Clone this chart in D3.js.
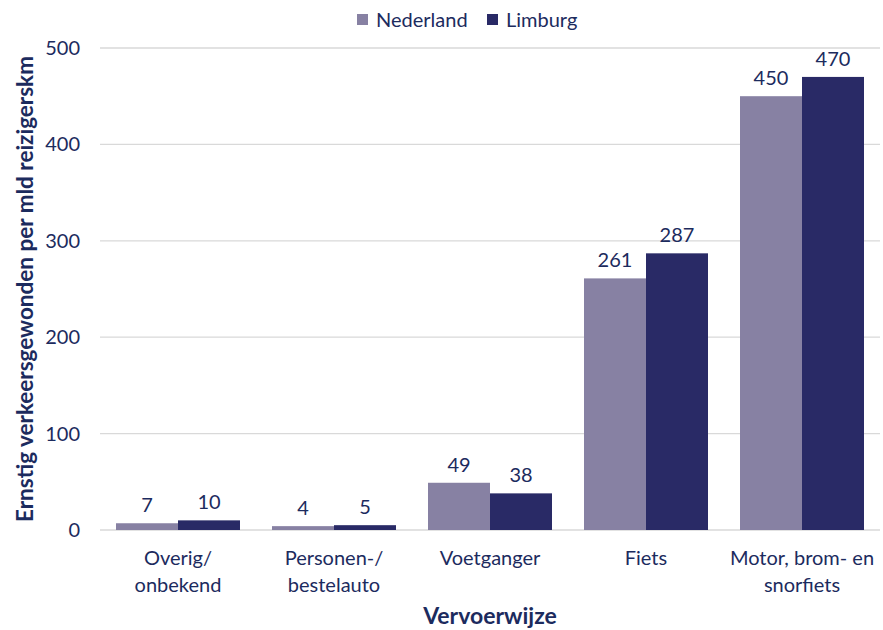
<!DOCTYPE html>
<html>
<head>
<meta charset="utf-8">
<script src="https://cdn.jsdelivr.net/npm/d3@7"></script>
<style>
  body { margin: 0; background: #fff; }
  text { font-family: Lato, "Open Sans", sans-serif; fill: #1c2b5e; }
  .grid line { stroke: #d9d9d9; stroke-width: 1.3; }
</style>
</head>
<body>
<div id="chart"></div>
<script>
var categories = ["Overig/\nonbekend", "Personen-/\nbestelauto", "Voetganger", "Fiets", "Motor, brom- en\nsnorfiets"];
var seriesNames = ["Nederland", "Limburg"];
var nederland = [7, 4, 49, 261, 450];
var limburg = [10, 5, 38, 287, 470];
var yTicks = [0, 100, 200, 300, 400, 500];
var colors = ["#8781a3", "#292a66"];

var W = 883, H = 630;
var margin = {top: 48, right: 3, bottom: 100, left: 100};
var width = W - margin.left - margin.right,
    height = H - margin.top - margin.bottom;

var svg = d3.select("#chart").append("svg")
    .attr("width", W).attr("height", H);
var g = svg.append("g")
    .attr("transform", "translate(" + margin.left + "," + margin.top + ")");

var x0 = d3.scaleBand().domain(categories).range([0, width]).paddingInner(0);
var x1 = d3.scaleBand().domain(seriesNames).range([16, x0.bandwidth() - 16]);
var y = d3.scaleLinear().domain([0, 500]).range([height, 0]);

// gridlines
g.append("g").attr("class", "grid")
  .selectAll("line").data(yTicks).enter().append("line")
  .attr("x1", 0).attr("x2", width)
  .attr("y1", function(d) { return y(d); })
  .attr("y2", function(d) { return y(d); });

// tick labels
g.append("g").selectAll("text").data(yTicks).enter().append("text")
  .attr("x", -20).attr("y", function(d) { return y(d); })
  .attr("dy", "0.35em").attr("text-anchor", "end")
  .style("font-size", "20px")
  .text(function(d) { return d; });

var rows = categories.map(function(c, i) {
  return {cat: c, vals: [nederland[i], limburg[i]]};
});

var groups = g.selectAll(".grp").data(rows).enter().append("g")
  .attr("class", "grp")
  .attr("transform", function(d) { return "translate(" + x0(d.cat) + ",0)"; });

groups.selectAll("rect").data(function(d) {
    return d.vals.map(function(v, k) { return {name: seriesNames[k], v: v, k: k}; });
  }).enter().append("rect")
  .attr("x", function(d) { return x1(d.name); })
  .attr("width", x1.bandwidth())
  .attr("y", function(d) { return y(d.v); })
  .attr("height", function(d) { return y(0) - y(d.v); })
  .attr("fill", function(d) { return colors[d.k]; });

groups.selectAll(".val").data(function(d) {
    return d.vals.map(function(v, k) { return {name: seriesNames[k], v: v}; });
  }).enter().append("text")
  .attr("class", "val")
  .attr("x", function(d) { return x1(d.name) + x1.bandwidth() / 2; })
  .attr("y", function(d) { return y(d.v) - 11; })
  .attr("text-anchor", "middle")
  .style("font-size", "20px")
  .text(function(d) { return d.v; });

// category labels
var catLab = g.append("g").selectAll("text").data(categories).enter().append("text")
  .attr("x", function(d) { return x0(d) + x0.bandwidth() / 2; })
  .attr("y", height + 35)
  .attr("text-anchor", "middle")
  .style("font-size", "20px");
catLab.each(function(d) {
  var lines = d.split("\n");
  var t = d3.select(this);
  lines.forEach(function(l, i) {
    t.append("tspan").attr("x", x0(d) + x0.bandwidth() / 2)
      .attr("dy", i === 0 ? 0 : 27).text(l);
  });
});

// axis titles
svg.append("text")
  .attr("x", margin.left + width / 2).attr("y", 624)
  .attr("text-anchor", "middle")
  .style("font-size", "23px").style("font-weight", "bold")
  .text("Vervoerwijze");

svg.append("text")
  .attr("transform", "translate(25," + (margin.top + height / 2) + ") rotate(-90)")
  .attr("dy", "0.35em")
  .attr("text-anchor", "middle")
  .style("font-size", "22.5px").style("font-weight", "bold")
  .text("Ernstig verkeersgewonden per mld reizigerskm");

// legend
var legX = [357, 487];
var leg = svg.append("g").selectAll("g").data(seriesNames).enter().append("g")
  .attr("transform", function(d, i) { return "translate(" + legX[i] + ",14)"; });
leg.append("rect").attr("width", 11).attr("height", 11)
  .attr("fill", function(d, i) { return colors[i]; });
leg.append("text").attr("x", 19).attr("y", 6).attr("dy", "0.35em")
  .style("font-size", "20px")
  .text(function(d) { return d; });
</script>
</body>
</html>
